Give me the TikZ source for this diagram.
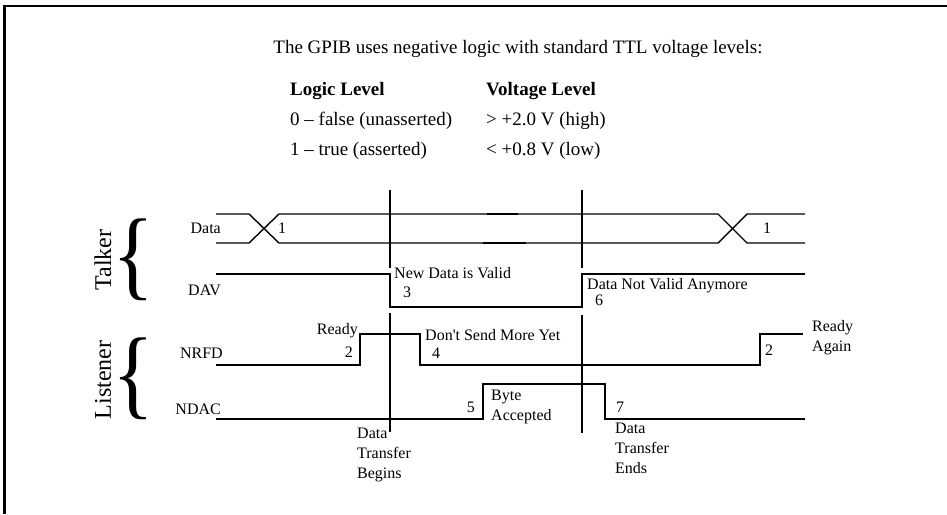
\documentclass[tikz,border=0pt]{standalone}
\usepackage{fontspec}
\setmainfont{Liberation Serif}
\begin{document}
\begin{tikzpicture}[x=1pt,y=-1pt,
  sig/.style={line width=1.4pt, line join=miter},
  thk/.style={line width=2.3pt},
  frame/.style={line width=2.8pt},
  ann/.style={font=\fontsize{16}{20}\selectfont, inner sep=0pt, anchor=base west},
  annr/.style={font=\fontsize{16}{20}\selectfont, inner sep=0pt, anchor=base east},
  head/.style={font=\fontsize{19}{22}\selectfont, inner sep=0pt, anchor=base west},
  grp/.style={font=\fontsize{24}{28}\selectfont, inner sep=0pt, rotate=90},
  brc/.style={inner sep=0pt, font=\fontsize{99}{99}\selectfont}]
\useasboundingbox (0,0) rectangle (947,514);
\draw[frame] (4.3,514) -- (4.3,6) -- (947,6);
% header
\node[head, anchor=base] (title) at (518,53) {The GPIB uses negative logic with standard TTL voltage levels:};
\node[head] (lh) at (290,95) {\textbf{Logic Level}};
\node[head] (vh) at (486,95) {\textbf{Voltage Level}};
\node[head] (l0) at (290,125) {0 – false (unasserted)};
\node[head] (v0) at (486,125) {> +2.0 V (high)};
\node[head] (l1) at (290,155) {1 – true (asserted)};
\node[head] (v1) at (486,155) {< +0.8 V (low)};
% groups
\node[grp] (talker) at (103,260) {Talker};
\node[grp] (listener) at (103,380) {Listener};
\node[brc] (b1) at (133,259.5) {\scalebox{0.88}[1]{\{}};
\node[brc] (b2) at (133,378.5) {\scalebox{0.88}[1]{\{}};
% signal names
\node[annr] (ndata) at (221,233) {Data};
\node[annr] (ndav) at (221,295) {DAV};
\node[annr] (nnrfd) at (223,358) {NRFD};
\node[annr] (nndac) at (221,414) {NDAC};
% timing references
\draw[sig] (390,190) -- (390,268);
\draw[sig] (390,313) -- (390,432);
\draw[sig] (582,190) -- (582,268);
\draw[sig] (582,315) -- (582,433);
% Data
\draw[sig] (216,214) -- (249,214) -- (279,243) -- (718,243) -- (747,214) -- (805,214);
\draw[sig] (216,243) -- (249,243) -- (279,214) -- (718,214) -- (747,243) -- (805,243);
\draw[thk] (487,214) -- (518,214);
\draw[thk] (483,243) -- (526,243);
% DAV
\draw[sig] (216,274) -- (390,274) -- (390,307) -- (582,307) -- (582,274) -- (805,274);
% NRFD
\draw[sig] (216,365) -- (360,365) -- (360,334) -- (420,334) -- (420,365) -- (760,365) -- (760,334) -- (803,334);
% NDAC
\draw[sig] (216,419) -- (483,419) -- (483,384) -- (605,384) -- (605,419) -- (805,419);
% annotations
\node[ann] (one1) at (278,233) {1};
\node[ann] (one2) at (763,233) {1};
\node[ann] (newv) at (394,278) {New Data is Valid};
\node[ann] (three) at (403,297) {3};
\node[ann] (notv) at (587,289) {Data Not Valid Anymore};
\node[ann] (six) at (595,305) {6};
\node[annr] (ready) at (358,334) {Ready};
\node[annr] (two1) at (353,357) {2};
\node[ann] (dont) at (425,340) {Don\textquotesingle t Send More Yet};
\node[ann] (four) at (432,358) {4};
\node[ann] (two2) at (765,355) {2};
\node[ann, align=left, anchor=north west] (again) at (812,320) {Ready\\Again};
\node[annr] (five) at (475,412) {5};
\node[ann, align=left, anchor=north west] (byte) at (491,390) {Byte\\Accepted};
\node[ann] (seven) at (616,412) {7};
\node[ann, align=left, anchor=north west] (begins) at (357,428) {Data\\Transfer\\Begins};
\node[ann, align=left, anchor=north west] (ends) at (615,423) {Data\\Transfer\\Ends};
\end{tikzpicture}
\end{document}
